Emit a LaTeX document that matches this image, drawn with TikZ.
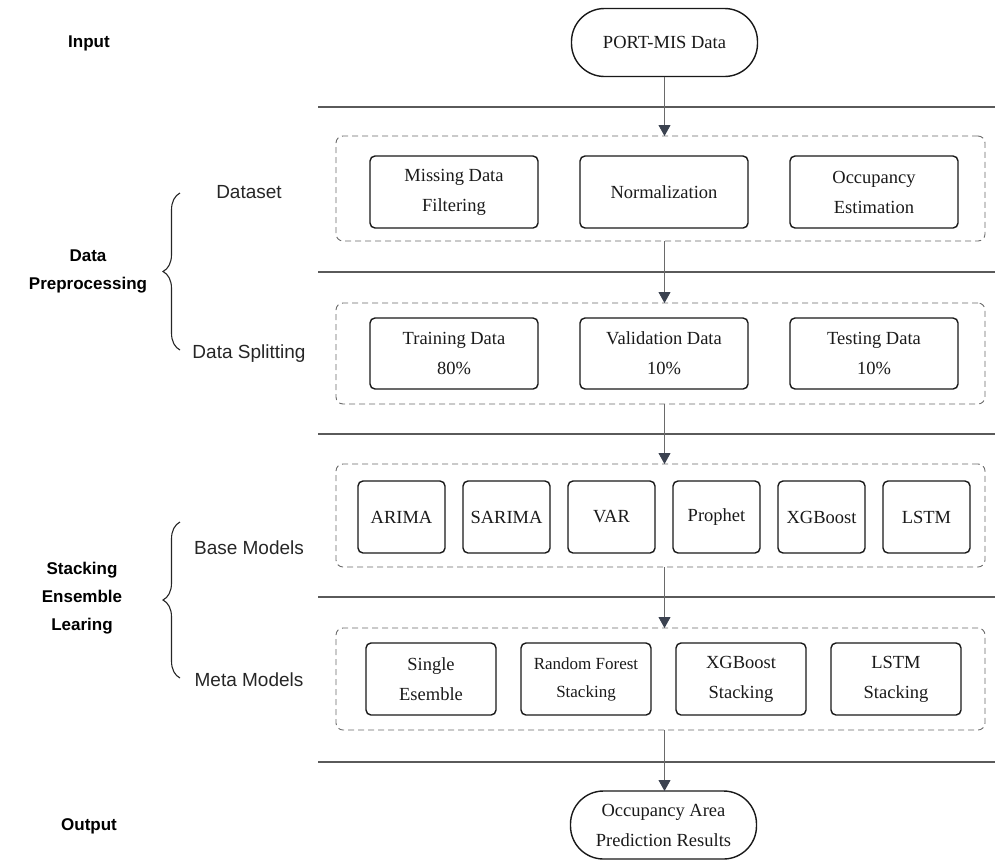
\documentclass[tikz,border=0pt]{standalone}
\usepackage{fontspec}
\setmainfont{Liberation Serif}
\setsansfont{Liberation Sans}
\usetikzlibrary{arrows.meta,decorations.pathreplacing}

\definecolor{linegray}{HTML}{5A5A5A}
\definecolor{dashgray}{HTML}{6A6A6A}
\definecolor{arrowhead}{HTML}{3B4250}
\definecolor{textdark}{HTML}{1A1A1A}

\begin{document}
\begin{tikzpicture}[x=1pt,y=-1pt,
  every node/.style={inner sep=0pt, outer sep=0pt},
  stadiumbox/.style={draw=black!90, line width=1.4pt, rounded corners=33pt,
    minimum width=186pt, minimum height=68pt, align=center, text=textdark,
    font=\fontsize{18.5}{30}\selectfont},
  procbox/.style={draw=black!90, line width=1.4pt, rounded corners=5pt,
    minimum height=72pt, align=center, text=textdark,
    font=\fontsize{18.5}{30}\selectfont},
  groupbox/.style={draw=dashgray, line width=0.9pt, dash pattern=on 6pt off 4pt,
    rounded corners=7pt, minimum width=649pt},
  sepline/.style={draw=linegray, line width=1.6pt},
  flowarrow/.style={draw=dashgray, line width=0.8pt,
    -{Triangle[width=12pt,length=11pt,fill=arrowhead,color=arrowhead]}},
  sidehead/.style={align=center, text=black, font=\sffamily\bfseries\fontsize{17}{28}\selectfont},
  sidesub/.style={text=black!85, font=\sffamily\fontsize{19}{22}\selectfont},
  bracemark/.style={draw=black!85, line width=1.1pt, decorate,
    decoration={brace, amplitude=17pt}}
]
\useasboundingbox (0,0) rectangle (995,860);

% start and end terminals
\node[stadiumbox] (src) at (664.5,42.5) {PORT-MIS Data};
\node[stadiumbox] (res) at (663.5,825) {Occupancy Area\\Prediction Results};

% separator lines between the stages
\foreach \i/\yy in {1/107,2/272,3/434,4/597,5/762}{
  \coordinate (sepL\i) at (318,\yy);
  \coordinate (sepR\i) at (995,\yy);
  \draw[sepline] (sepL\i) -- (sepR\i);
}

% dashed stage groups
\node[groupbox, minimum height=105pt] (g1) at (660.5,188.5) {};
\node[groupbox, minimum height=101pt] (g2) at (660.5,353.5) {};
\node[groupbox, minimum height=103pt] (g3) at (660.5,515.5) {};
\node[groupbox, minimum height=102pt] (g4) at (660.5,679) {};

% dataset preparation
\node[procbox, minimum width=168pt] (miss) at (454,192) {Missing Data\\Filtering};
\node[procbox, minimum width=168pt] (norm) at (664,192) {Normalization};
\node[procbox, minimum width=168pt] (occ)  at (874,192) {Occupancy\\Estimation};

% data splitting
\node[procbox, minimum width=168pt, minimum height=71pt] (train) at (454,353.5) {Training Data\\80\%};
\node[procbox, minimum width=168pt, minimum height=71pt] (valid) at (664,353.5) {Validation Data\\10\%};
\node[procbox, minimum width=168pt, minimum height=71pt] (test)  at (874,353.5) {Testing Data\\10\%};

% base models
\node[procbox, minimum width=87pt] (arima)   at (401.5,517) {ARIMA};
\node[procbox, minimum width=87pt] (sarima)  at (506.5,517) {SARIMA};
\node[procbox, minimum width=87pt] (var)     at (611.5,517) {VAR};
\node[procbox, minimum width=87pt] (prophet) at (716.5,517) {Prophet};
\node[procbox, minimum width=87pt] (xgb)     at (821.5,517) {XGBoost};
\node[procbox, minimum width=87pt] (lstm)    at (926.5,517) {LSTM};

% meta models
\node[procbox, minimum width=130pt] (single) at (431,679) {Single\\Esemble};
\node[procbox, minimum width=130pt, font=\fontsize{17}{28}\selectfont] (rfs) at (586,679) {Random Forest\\Stacking};
\node[procbox, minimum width=130pt] (xgbs)   at (741,679) {XGBoost\\Stacking};
\node[procbox, minimum width=130pt] (lstms)  at (896,679) {LSTM\\Stacking};

% flow arrows down the centre
\draw[flowarrow] (src.south) -- (src.south |- g1.north);
\draw[flowarrow] (g1.south -| src.south) -- (g2.north -| src.south);
\draw[flowarrow] (g2.south -| src.south) -- (g3.north -| src.south);
\draw[flowarrow] (g3.south -| src.south) -- (g4.north -| src.south);
\draw[flowarrow] (g4.south -| src.south) -- (res.north -| src.south);

% stage labels
\node[sidehead] (lin)  at (89,43) {Input};
\node[sidehead] (lpre) at (88,271) {Data\\Preprocessing};
\node[sidehead] (lens) at (82,598) {Stacking\\Ensemble\\Learing};
\node[sidehead] (lout) at (89,826) {Output};

\node[sidesub] (ldset)  at (249,192) {Dataset};
\node[sidesub] (lsplit) at (249,354) {Data Splitting};
\node[sidesub] (lbase)  at (249,548) {Base Models};
\node[sidesub] (lmeta)  at (249,680) {Meta Models};

% braces
\coordinate (b1top) at (180,193);
\coordinate (b1bot) at (180,350);
\coordinate (b2top) at (180,522);
\coordinate (b2bot) at (180,678);
\draw[bracemark] (b1bot) -- (b1top);
\draw[bracemark] (b2bot) -- (b2top);
\end{tikzpicture}
\end{document}
